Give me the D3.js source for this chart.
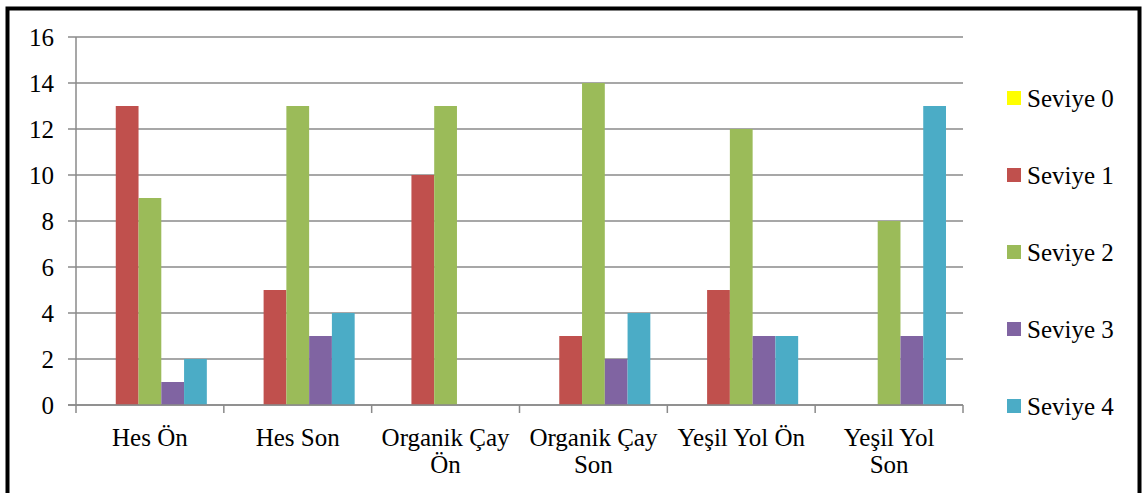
<!DOCTYPE html>
<html>
<head>
  <script src="https://d3js.org/d3.v7.min.js"></script>
  <style>
    body { margin: 0; background: #fff; overflow: hidden; }
    svg { display: block; }
  </style>
</head>
<body>
  <div id="chart"></div>
  <script>
    // chart data
    const categories = ['Hes Ön', 'Hes Son', 'Organik Çay Ön', 'Organik Çay Son', 'Yeşil Yol Ön', 'Yeşil Yol Son'];
    const categoryLines = [['Hes Ön'], ['Hes Son'], ['Organik Çay', 'Ön'], ['Organik Çay', 'Son'], ['Yeşil Yol Ön'], ['Yeşil Yol', 'Son']];
    const seriesNames = ['Seviye 0', 'Seviye 1', 'Seviye 2', 'Seviye 3', 'Seviye 4'];
    const seviye0 = [0, 0, 0, 0, 0, 0];
    const seviye1 = [13, 5, 10, 3, 5, 0];
    const seviye2 = [9, 13, 13, 14, 12, 8];
    const seviye3 = [1, 3, 0, 2, 3, 3];
    const seviye4 = [2, 4, 0, 4, 3, 13];
    const yTicks = [0, 2, 4, 6, 8, 10, 12, 14, 16];

    const seriesValues = [seviye0, seviye1, seviye2, seviye3, seviye4];
    const colors = ['#FFFF00', '#C0504D', '#9BBB59', '#8064A2', '#4BACC6'];
    const font = "'Liberation Serif', Tinos, 'DejaVu Serif', serif";

    const width = 1144, height = 493;
    const svg = d3.select('#chart').append('svg')
      .attr('width', width)
      .attr('height', height)
      .attr('font-family', font);

    // outer frame
    svg.append('rect')
      .attr('x', 7.5).attr('y', 8.5)
      .attr('width', width - 12).attr('height', height + 10)
      .attr('fill', 'none')
      .attr('stroke', '#000')
      .attr('stroke-width', 4);

    const plotLeft = 76, plotRight = 963, plotTop = 37, plotBottom = 405;

    const x0 = d3.scaleBand().domain(categories).range([plotLeft, plotRight]).paddingInner(0).paddingOuter(0);
    const x1 = d3.scaleBand().domain(seriesNames).range([17, x0.bandwidth() - 17]);
    const y = d3.scaleLinear().domain([0, 16]).range([plotBottom, plotTop]);

    // gridlines
    svg.append('g')
      .selectAll('line')
      .data(yTicks)
      .join('line')
      .attr('x1', plotLeft - 8).attr('x2', plotRight)
      .attr('y1', d => y(d)).attr('y2', d => y(d))
      .attr('stroke', '#8a8a8a')
      .attr('stroke-width', 1.5);

    // y axis labels
    svg.append('g')
      .selectAll('text')
      .data(yTicks)
      .join('text')
      .attr('x', 54)
      .attr('y', d => y(d))
      .attr('dy', '0.35em')
      .attr('text-anchor', 'end')
      .attr('font-size', 25)
      .text(d => d);

    // y axis line
    svg.append('line')
      .attr('x1', plotLeft).attr('x2', plotLeft)
      .attr('y1', plotTop).attr('y2', plotBottom)
      .attr('stroke', '#8a8a8a').attr('stroke-width', 1.5);

    // bars
    const groups = svg.append('g')
      .selectAll('g')
      .data(categories)
      .join('g')
      .attr('transform', d => `translate(${x0(d)},0)`);

    groups.selectAll('rect')
      .data((c, i) => seriesNames.map((s, j) => ({ s, v: seriesValues[j][i], color: colors[j] })))
      .join('rect')
      .attr('x', d => x1(d.s))
      .attr('width', x1.bandwidth())
      .attr('y', d => y(d.v))
      .attr('height', d => plotBottom - y(d.v))
      .attr('fill', d => d.color);

    // x axis line and ticks at category boundaries
    svg.append('line')
      .attr('x1', plotLeft - 8).attr('x2', plotRight)
      .attr('y1', plotBottom).attr('y2', plotBottom)
      .attr('stroke', '#8a8a8a').attr('stroke-width', 1.5);

    const bounds = categories.map(c => x0(c)).concat([plotRight]);
    svg.append('g')
      .selectAll('line')
      .data(bounds)
      .join('line')
      .attr('x1', d => d).attr('x2', d => d)
      .attr('y1', plotBottom).attr('y2', plotBottom + 8)
      .attr('stroke', '#8a8a8a').attr('stroke-width', 1.5);

    // category labels
    const labels = svg.append('g')
      .selectAll('text')
      .data(categories)
      .join('text')
      .attr('x', d => x0(d) + x0.bandwidth() / 2)
      .attr('y', 446)
      .attr('text-anchor', 'middle')
      .attr('font-size', 25);
    labels.selectAll('tspan')
      .data((d, i) => categoryLines[i])
      .join('tspan')
      .attr('x', function () { return this.parentNode.getAttribute('x'); })
      .attr('dy', (d, i) => i === 0 ? 0 : 27)
      .text(d => d);

    // legend
    const legend = svg.append('g')
      .selectAll('g')
      .data(seriesNames)
      .join('g')
      .attr('transform', (d, i) => `translate(1007, ${98 + i * 77})`);
    legend.append('rect')
      .attr('x', 0).attr('y', -7)
      .attr('width', 14).attr('height', 14)
      .attr('fill', (d, i) => colors[i]);
    legend.append('text')
      .attr('x', 20)
      .attr('dy', '0.35em')
      .attr('font-size', 25)
      .text(d => d);
  </script>
</body>
</html>
